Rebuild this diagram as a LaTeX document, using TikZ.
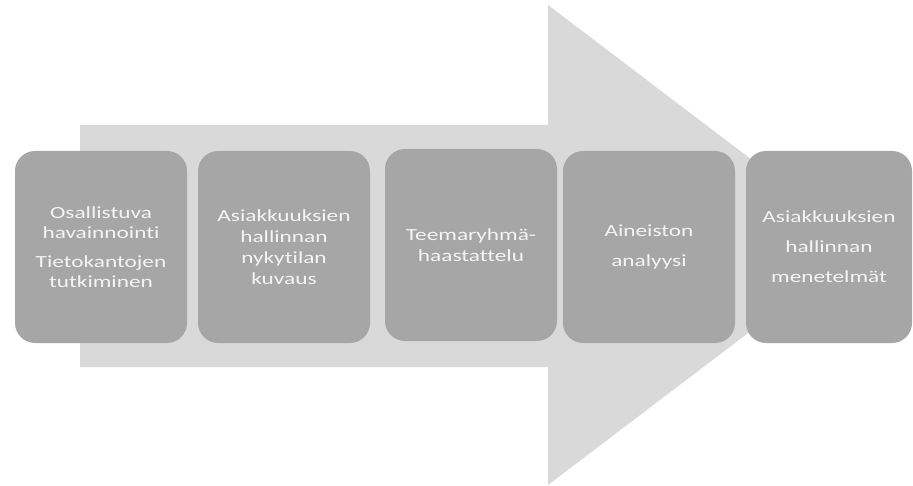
\documentclass[tikz,border=0pt]{standalone}
\usepackage{fontspec}
\setmainfont{Carlito}
\newfontfamily\boxfont[FakeStretch=1.37, Ligatures={NoCommon}]{Carlito}
\definecolor{arrowgray}{HTML}{D9D9D9}
\definecolor{boxgray}{HTML}{A6A6A6}
\definecolor{txtwhite}{HTML}{F4F4F4}
\begin{document}
\begin{tikzpicture}[x=1pt,y=-1pt,
  stepbox/.style={draw=none, fill=boxgray, rounded corners=20pt, minimum width=172pt,
    minimum height=192pt, inner sep=0pt, align=center, text=txtwhite},
  tight/.style={font=\boxfont\fontsize{17}{21}\selectfont},
  loose/.style={font=\boxfont\fontsize{17}{30}\selectfont}]
\fill[white] (0,0) rectangle (913,486);
\useasboundingbox (0,0) rectangle (913,486);
\fill[arrowgray] (80,125) -- (548,125) -- (548,5) -- (864,245) -- (548,485) -- (548,367) -- (80,367) -- cycle;
\node[stepbox, font=\boxfont\fontsize{17}{20}\selectfont] (b1) at (101,247) {Osallistuva\\havainnointi\\[9pt]Tietokantojen\\tutkiminen};
\node[stepbox, tight] (b2) at (284,247) {Asiakkuuksien\\hallinnan\\nykytilan\\kuvaus};
\node[stepbox, tight] (b3) at (471,245) {Teemaryhmä-\\haastattelu};
\node[stepbox, loose] (b4) at (649,247) {Aineiston\\analyysi};
\node[stepbox, loose, minimum width=166pt] (b5) at (829,247) {Asiakkuuksien\\hallinnan\\menetelmät};
\end{tikzpicture}
\end{document}
